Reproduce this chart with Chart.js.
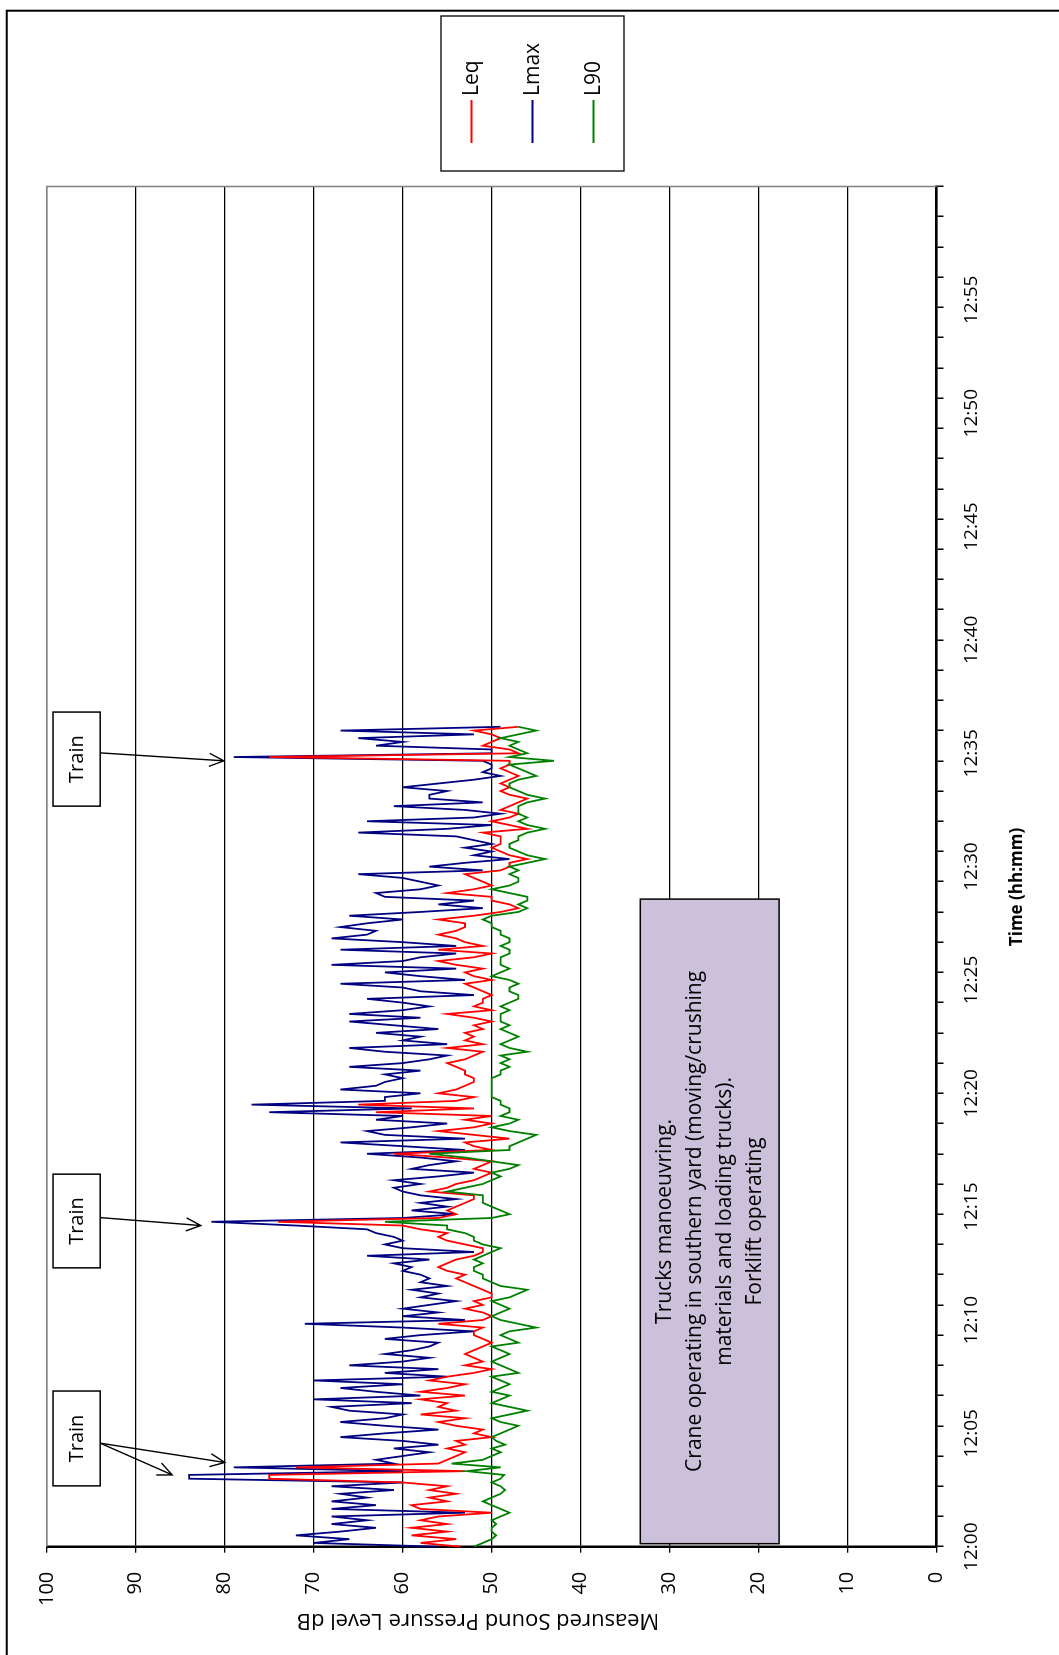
<!DOCTYPE html>
<html>
<head>
<meta charset="utf-8">
<script src="https://cdn.jsdelivr.net/npm/chart.js@4.4.1/dist/chart.umd.min.js"></script>
<style>
  html, body { margin: 0; padding: 0; background: #fff; overflow: hidden; }
  #page { position: absolute; left: 0; top: 0; width: 1059px; height: 1655px; overflow: hidden; background: #fff; }
  /* the chart is laid out landscape and turned a quarter turn anticlockwise onto the portrait page */
  #turn { position: absolute; left: 0; top: 0; width: 1655px; height: 1059px;
          transform-origin: 0 0; transform: translate(0, 1655px) rotate(-90deg); }
  canvas { display: block; }
</style>
</head>
<body>
<div id="page"><div id="turn"><canvas id="noise" width="1655" height="1059"></canvas></div></div>
<script>
// ---- measurement data: one sample every 10 s from 12:00:00 ----
const lmax = [
  56,70,66,72,67,63,68,64,68,53, 68,63,68,64,67,61,68,60,84,84,
  60,79,61,63,60,57,61,56,60,67, 62,56,62,67,62,60,66,68,59,70,
  58,63,67,60,70,55,62,56,66,60, 57,62,59,57,56,62,58,52,60,71,
  53,60,56,60,57,54,58,56,59,55, 58,57,58,60,59,61,57,64,52,60,
  62,60,61,63,64,72,81.5,60,54,59, 55,58,54,58,60,61,58,61,56,52,
  59,57,54,58,64,53,60,67,53,62, 64,59,55,63,60,75,59,77,62,62,
  58,67,63,62,60,62,58,66,60,57, 55,62,66,55,60,58,63,56,61,66,
  58,66,60,57,60,64,52,58,60,67, 53,58,62,54,68,60,58,54,67,54,
  60,68,64,63,67,64,60,66,58,51, 56,52,62,63,58,56,58,60,65,51,
  57,53,48,52,50,53,50,52,54,65, 55,50,64,52,49,53,61,51,57,57,
  55,60,56,52,49,51,50,50,51,79, 50,50,63,60,65,52,67,49
];
const leq = [
  53.5,58,54,59,55,59,55,58,56,50, 58,59,55,57,54,57,55,60,75,75,
  53,72,56,55,54,53,55,53,54,50, 52,51,54,56,53,58,54,56,55,58,
  53,58,55,53,57,55,52,50,53,51, 52,53,52,51,50,51,52,52,51,56,
  51,50,51,53,51,52,50,50,51,52, 53,54,53,55,56,55,54,52,51,51,
  53,55,56,55,58,60,74,56,54,55, 54,53,52,52,57,55,54,52,51,50,
  52,51,50,55,61,50,52,53,48,52, 56,52,50,53,50,63,52,65,54,52,
  56,54,53,52,52,53,53,54,55,53, 52,51,55,51,53,52,53,51,52,50,
  52,55,50,52,51,51,50,51,52,53, 50,52,53,51,54,56,52,50,56,51,
  53,54,56,54,53,53,56,52,49,47, 48,50,50,55,52,50,51,52,53,49,
  48,48,46,48,49,50,49,49,49,51, 46,48,50,48,47,49,48,47,46,48,
  49,48,49,48,47,48,49,48,48,75, 47,48,51,50,49,50,52,47
];
const l90 = [
  52,51,50,49.5,50,50,49.5,50,49,48, 49,50,51,50,49,48.5,49,50,49,48.6,
  52.8,49,54.5,51,50,49,50,48.5,49.5,50, 49,48,47,49,50,48,46,48,50,49,
  48,50,49,48,49,50,47,48,49,50, 49,48,49,50,47,48,49,48,45,47,
  49,50,49,48,49,50,48,47,46,49, 50,51,51,52,52,51,52,51,50,49,
  51,52,52,53,55,55,62,50,48,49, 50,51,51,51,55,53,51,50,49,50,
  48,47,50,53,57,48,48,47,46,45, 48,50,48,47,49,48,48,49,49,50,
  50,50,50,50,50,49,49,48,49,48, 49,46,48,49,48,47,48,49,48,49,
  49,49,48,49,48,47,47,48,48,47, 48,50,49,48,49,49,49,48,48,49,
  48,48,49,49,50,50,51,50,47,46, 47,46,46,48,50,48,47,47,48,47,
  48,46,44,46,47,48,48,47,47,46, 44,46,47,46,47,47,47,46,44,46,
  47,48,48,47,45,46,47,48,43,48, 46,47,48,47,49,47,45,47
];

// ---- time axis: one category per 10 s slot, 12:00:00 to 13:00:00 ----
const SLOT_SECONDS = 10;
const SLOT_COUNT = 361;
const TICK_EVERY = 8;     // tick mark every 80 s
const LABEL_EVERY = 30;   // label every 5 min
const two = n => String(n).padStart(2, '0');
const timeLabels = Array.from({ length: SLOT_COUNT }, (_, i) => {
  const s = i * SLOT_SECONDS;
  return `${12 + Math.floor(s / 3600)}:${two(Math.floor((s % 3600) / 60))}:${two(s % 60)}`;
});
const slotOf = t => {
  const [h, m, s] = t.split(':').map(Number);
  return ((h - 12) * 3600 + m * 60 + s) / SLOT_SECONDS;
};

// ---- notes placed on the plot (time, dB) ----
const activityNote = {
  from: '12:00:08', to: '12:28:34', low: 17.7, high: 33.3,
  lines: ['Trucks manoeuvring.',
          'Crane operating in southern yard (moving/crushing',
          'materials and loading trucks).',
          'Forklift operating']
};
const trainNotes = [
  { from: '12:02:41', to: '12:06:52', low: 94.0, high: 99.3, anchor: '12:04:34',
    targets: [['12:03:43', 80.0], ['12:03:10', 85.9]] },
  { from: '12:12:18', to: '12:16:26', low: 94.0, high: 99.3, anchor: '12:14:31',
    targets: [['12:14:10', 82.7]] },
  { from: '12:32:40', to: '12:36:49', low: 94.0, high: 99.3, anchor: '12:35:01',
    targets: [['12:34:40', 80.1]] }
];

const FONT = '"Open Sans", "DejaVu Sans", sans-serif';

function arrow(ctx, x0, y0, x1, y1) {
  const a = Math.atan2(y1 - y0, x1 - x0), len = 16, spread = 0.42;
  ctx.beginPath();
  ctx.moveTo(x0, y0); ctx.lineTo(x1, y1);
  ctx.moveTo(x1 - len * Math.cos(a - spread), y1 - len * Math.sin(a - spread));
  ctx.lineTo(x1, y1);
  ctx.lineTo(x1 - len * Math.cos(a + spread), y1 - len * Math.sin(a + spread));
  ctx.stroke();
}

const decorations = {
  id: 'decorations',
  beforeDatasetsDraw(chart) {
    const { ctx, chartArea: a, scales: { x, y } } = chart;
    ctx.save();
    // light outline on the open sides of the plot
    ctx.strokeStyle = '#808080'; ctx.lineWidth = 1.5;
    ctx.beginPath();
    ctx.moveTo(a.left, a.top); ctx.lineTo(a.right, a.top); ctx.lineTo(a.right, a.bottom);
    ctx.stroke();
    // activity box
    const n = activityNote;
    const l = x.getPixelForValue(slotOf(n.from)), r = x.getPixelForValue(slotOf(n.to));
    const t = y.getPixelForValue(n.high), b = y.getPixelForValue(n.low);
    ctx.fillStyle = '#ccc1da'; ctx.fillRect(l, t, r - l, b - t);
    ctx.strokeStyle = '#000'; ctx.lineWidth = 1.5; ctx.strokeRect(l, t, r - l, b - t);
    ctx.fillStyle = '#000'; ctx.font = `21px ${FONT}`;
    ctx.textAlign = 'center'; ctx.textBaseline = 'middle';
    const cx = (l + r) / 2, cy = (t + b) / 2, step = 30;
    n.lines.forEach((s, i) => ctx.fillText(s, cx, cy + (i - (n.lines.length - 1) / 2) * step));
    ctx.restore();
  },
  afterDraw(chart) {
    const { ctx, chartArea: a, scales: { x, y } } = chart;
    ctx.save();
    // train call-outs
    trainNotes.forEach(n => {
      const l = x.getPixelForValue(slotOf(n.from)), r = x.getPixelForValue(slotOf(n.to));
      const t = y.getPixelForValue(n.high), b = y.getPixelForValue(n.low);
      ctx.fillStyle = '#fff'; ctx.fillRect(l, t, r - l, b - t);
      ctx.strokeStyle = '#000'; ctx.lineWidth = 1.5; ctx.strokeRect(l, t, r - l, b - t);
      ctx.fillStyle = '#000'; ctx.font = `20px ${FONT}`;
      ctx.textAlign = 'center'; ctx.textBaseline = 'middle';
      ctx.fillText('Train', (l + r) / 2, (t + b) / 2 + 1);
      const ax = x.getPixelForValue(slotOf(n.anchor));
      ctx.lineWidth = 1.4;
      n.targets.forEach(([tm, db]) => arrow(ctx, ax, b, x.getPixelForValue(slotOf(tm)), y.getPixelForValue(db)));
    });
    // axis titles
    ctx.fillStyle = '#000'; ctx.textAlign = 'center'; ctx.textBaseline = 'middle';
    ctx.font = `bold 17px ${FONT}`;
    ctx.fillText('Time (hh:mm)', 768, 1017);
    ctx.save();
    ctx.translate(35, 478); ctx.rotate(-Math.PI / 2);
    ctx.font = `22px ${FONT}`;
    ctx.fillText('Measured Sound Pressure Level dB', 0, 0);
    ctx.restore();
    // legend
    const lg = { left: 1484, top: 441, right: 1639, bottom: 624 };
    ctx.fillStyle = '#fff'; ctx.fillRect(lg.left, lg.top, lg.right - lg.left, lg.bottom - lg.top);
    ctx.strokeStyle = '#000'; ctx.lineWidth = 1.3;
    ctx.strokeRect(lg.left, lg.top, lg.right - lg.left, lg.bottom - lg.top);
    const shown = ['Leq', 'Lmax', 'L90'].map(k => chart.data.datasets.find(d => d.label === k));
    const rowGap = 61, firstRow = (lg.top + lg.bottom) / 2 - rowGap;
    ctx.font = `21px ${FONT}`; ctx.textAlign = 'left';
    shown.forEach((d, i) => {
      const ry = firstRow + i * rowGap;
      ctx.strokeStyle = d.borderColor; ctx.lineWidth = 1.8;
      ctx.beginPath(); ctx.moveTo(1512, ry); ctx.lineTo(1555, ry); ctx.stroke();
      ctx.fillStyle = '#000'; ctx.fillText(d.label, 1559, ry + 1);
    });
    // outer frame
    ctx.strokeStyle = '#000'; ctx.lineWidth = 2;
    ctx.beginPath(); ctx.moveTo(-5, 6.7); ctx.lineTo(1644.3, 6.7); ctx.lineTo(1644.3, 1070); ctx.stroke();
    ctx.restore();
  }
};

new Chart(document.getElementById('noise'), {
  type: 'line',
  data: {
    labels: timeLabels,
    datasets: [
      { label: 'L90', data: l90, borderColor: '#008000', order: 0 },
      { label: 'Leq', data: leq, borderColor: '#ff0000', order: 1 },
      { label: 'Lmax', data: lmax, borderColor: '#000080', order: 2 }
    ]
  },
  options: {
    responsive: false, animation: false, devicePixelRatio: 1, events: [],
    layout: { padding: { left: 0, top: 46.8, right: 186.5, bottom: 0 } },
    elements: { point: { radius: 0, hoverRadius: 0 }, line: { borderWidth: 1.8, tension: 0, fill: false } },
    plugins: { legend: { display: false }, tooltip: { enabled: false } },
    scales: {
      x: {
        type: 'category', offset: false,
        grid: { drawOnChartArea: false, drawTicks: true, tickLength: 7, lineWidth: 1.5,
                tickColor: c => (c.index % TICK_EVERY === 0 ? '#000' : 'rgba(0,0,0,0)') },
        border: { display: true, color: '#000', width: 2.5 },
        ticks: { autoSkip: false, maxRotation: 0, minRotation: 0, padding: 17, color: '#000',
                 font: { family: FONT, size: 19 },
                 callback: (v, i) => (i % LABEL_EVERY === 0 && i < SLOT_COUNT - 1 ? timeLabels[i].slice(0, 5) : '') },
        afterFit(s) { s.height = 122.4; }
      },
      y: {
        min: 0, max: 100,
        ticks: { stepSize: 10, padding: 19, color: '#000', font: { family: FONT, size: 20 } },
        grid: { color: c => (c.tick && c.tick.value === 100 ? '#808080' : '#000'), lineWidth: 1.3,
                tickLength: 6, tickColor: '#000' },
        border: { display: true, color: '#000', width: 2.5 },
        afterFit(s) { s.width = 108.3; }
      }
    }
  },
  plugins: [decorations]
});
</script>
</body>
</html>
